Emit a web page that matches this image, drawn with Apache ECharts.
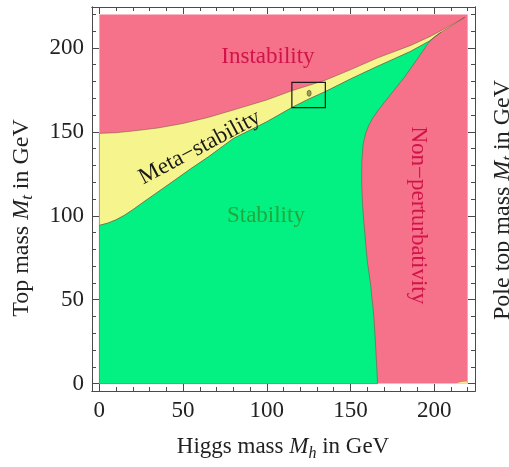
<!DOCTYPE html>
<html><head><meta charset="utf-8">
<script src="https://cdn.jsdelivr.net/npm/echarts@6/dist/echarts.min.js"></script>
<style>html,body{margin:0;padding:0;background:#fff}#c{width:509px;height:467px}</style>
</head><body><div id="c"></div>
<script>
// ---- data ----
const xMajorTicks = [0, 50, 100, 150, 200];
const xMinorTicks = [10, 20, 30, 40, 60, 70, 80, 90, 110, 120, 130, 140, 160, 170, 180, 190, 210, 220];
const yMajorTicks = [0, 50, 100, 150, 200];
const yMinorTicks = [10, 20, 30, 40, 60, 70, 80, 90, 110, 120, 130, 140, 160, 170, 180, 190, 210, 220];
const plotCorner = [[0, 0], [220, 0], [220, 220], [0, 220]];
// Instability / meta-stability boundary (Mh, Mt)
const instabilityEdge = [[0,149.1],[10,149.5],[20,150.5],[35,152.3],[50,155],[65,158.6],[80,163],[100,169],[115,174.5],[125,177.6],[135,180.8],[150,187],[166,194],[186,201.5],[198,207],[205,210.7],[212,214.6],[218.3,218.3]];
// Meta-stability / stability boundary
const stabilityEdge = [[0,94.3],[5,95.6],[10,97.6],[15,100.3],[20,103.6],[25,107.2],[35,114.2],[45,121.2],[55,128.3],[65,135],[80,146],[100,156],[115,164.5],[125,169.5],[135,174],[150,181.5],[165.6,188.8],[185.6,197.8],[197,204],[204,209.3]];
const metaTipEdge = [[211,213.6]];
// Stability / non-perturbativity boundary (bottom to top)
const perturbativityEdge = [[166.2,0],[165.2,19.7],[164,39.6],[162,59.5],[160,73.4],[158.6,89.4],[157.3,105],[156.7,120],[156.8,132],[157.5,142],[159,149],[161,154],[163.5,158.5],[167,163.5],[174.6,173],[182.5,182.9],[189.5,192.8],[196.4,202.8],[200,206.5],[204,209.3]];
const yellowSliver = [[213,0],[219.6,0],[219.6,1.3],[216,1.0]];
const zoomBox = [[115, 164.5], [135, 179.5]];
const measuredPoint = [[125.3, 173]];
const regionLabels = [
  { text: 'Instability', at: [100.7, 194.6], color: '#D0144A', angle: 0 },
  { text: 'Stability', at: [99.5, 99.7], color: '#22A83A', angle: 0 },
  { text: 'Meta\u2212stability', at: [60, 140.6], color: '#1a1a1a', angle: 28 },
  { text: 'Non\u2212perturbativity', at: [190.3, 100.3], color: '#D0144A', angle: -90 }
];

const FONT = '"Liberation Serif","DejaVu Serif",serif';
const FS = 23;
const PINK = '#F6728A', YELLOW = '#F6F48C', GREEN = '#02F182';
const EDGE = 'rgba(90,70,50,0.55)';

const greenPoly = [[0,0]].concat(perturbativityEdge, stabilityEdge.slice().reverse());
const yellowPoly = instabilityEdge.concat(metaTipEdge, stabilityEdge.slice().reverse());

function polySeries(points, fill, stroke) {
  return {
    type: 'custom', coordinateSystem: 'cartesian2d', silent: true, clip: true,
    data: [[points[0][0], points[0][1]]],
    renderItem: (params, api) => ({
      type: 'polygon',
      shape: { points: points.map(p => api.coord(p)) },
      style: { fill: fill, stroke: stroke || null, lineWidth: stroke ? 0.8 : 0 }
    })
  };
}

function axis(pos, values, len, labels) {
  return {
    type: 'value', position: pos, min: -4.4, max: 224.4,
    axisLine: { show: true, onZero: false, lineStyle: { color: '#4a4a4a', width: 1 } },
    axisTick: { show: true, inside: true, length: len, customValues: values, lineStyle: { color: '#4a4a4a', width: 1 } },
    axisLabel: labels ? { show: true, customValues: values, margin: 8, color: '#222', fontSize: FS, fontFamily: FONT } : { show: false },
    splitLine: { show: false }, minorTick: { show: false }
  };
}

function title(text, x, y, rot, fs) {
  return { type: 'text', x: x, y: y, rotation: rot,
    style: { text: text, fill: '#222', font: fs + 'px ' + FONT, lineHeight: 29, align: 'center', verticalAlign: 'middle',
      rich: {
        i: { fontStyle: 'italic', fontSize: fs, fontFamily: FONT, lineHeight: 29 },
        s: { fontStyle: 'italic', fontSize: Math.round(fs * 0.7), fontFamily: FONT, lineHeight: 16, verticalAlign: 'bottom' }
      } } };
}

const chart = echarts.init(document.getElementById('c'), null, { renderer: 'canvas' });
chart.setOption({
  animation: false,
  backgroundColor: '#fff',
  grid: { left: 92, right: 34, top: 7, bottom: 76, show: false },
  xAxis: [
    axis('bottom', xMajorTicks, 7, true),
    axis('bottom', xMinorTicks, 4, false),
    axis('top', xMajorTicks, 7, false),
    axis('top', xMinorTicks, 4, false)
  ],
  yAxis: [
    axis('left', yMajorTicks, 7, true),
    axis('left', yMinorTicks, 4, false),
    axis('right', yMajorTicks, 7, false),
    axis('right', yMinorTicks, 4, false)
  ],
  series: [
    polySeries(plotCorner, PINK, null),
    polySeries(yellowPoly, YELLOW, EDGE),
    polySeries(greenPoly, GREEN, EDGE),
    polySeries(yellowSliver, YELLOW, null),
    {
      type: 'custom', coordinateSystem: 'cartesian2d', silent: true,
      data: [[zoomBox[0][0], zoomBox[0][1]]],
      renderItem: (params, api) => {
        const a = api.coord(zoomBox[0]), b = api.coord(zoomBox[1]);
        return { type: 'rect', shape: { x: a[0], y: b[1], width: b[0] - a[0], height: a[1] - b[1] },
          style: { fill: null, stroke: '#1a1a1a', lineWidth: 1.2 } };
      }
    },
    {
      type: 'scatter', silent: true, symbol: 'circle', symbolSize: [4, 6],
      itemStyle: { color: '#8a8a45', borderColor: '#55552a', borderWidth: 0.8 },
      data: measuredPoint
    },
    {
      type: 'custom', coordinateSystem: 'cartesian2d', silent: true,
      data: regionLabels.map(l => l.at),
      renderItem: (params, api) => {
        const l = regionLabels[params.dataIndex];
        const p = api.coord(l.at);
        return { type: 'text', x: p[0], y: p[1], rotation: l.angle * Math.PI / 180,
          style: { text: l.text, fill: l.color, font: FS + 'px ' + FONT, align: 'center', verticalAlign: 'middle' } };
      }
    }
  ],
  graphic: [
    title('Higgs mass {i|M}{s|h} in GeV', 283, 447, 0, 23),
    title('Top mass {i|M}{s|t} in GeV', 22, 218, Math.PI / 2, 24),
    title('Pole top mass {i|M}{s|t} in GeV', 503, 200, Math.PI / 2, 24)
  ]
});
</script></body></html>
